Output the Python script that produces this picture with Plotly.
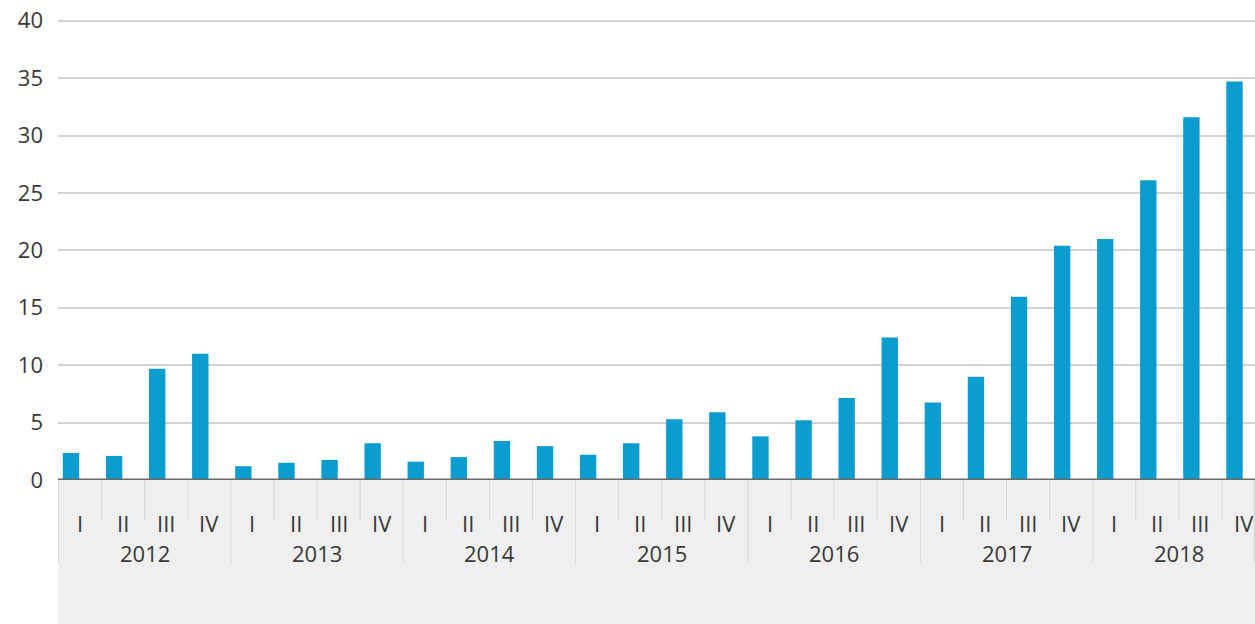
import plotly.graph_objects as go

years = ["2012", "2013", "2014", "2015", "2016", "2017", "2018"]
quarters = ["I", "II", "III", "IV"]
values = [
    2.35, 2.1, 9.7, 11.0,
    1.2, 1.5, 1.75, 3.2,
    1.6, 2.0, 3.4, 2.95,
    2.2, 3.2, 5.3, 5.9,
    3.8, 5.2, 7.15, 12.4,
    6.75, 9.0, 15.95, 20.4,
    21.0, 26.1, 31.6, 34.7,
]
y_ticks = [0, 5, 10, 15, 20, 25, 30, 35, 40]

W, H = 1255, 624
ML, MR, MT, MB = 58, 0, 19, 144
plot_h = H - MT - MB

n = len(values)
xs = list(range(n))
label_shift = 0.21

fig = go.Figure()
fig.add_trace(go.Bar(
    x=xs, y=values, width=0.38,
    marker=dict(color="#0b9dcf", line=dict(width=0)),
    hoverinfo="y",
))

def py(px):
    # pixels below plot bottom -> paper coordinate
    return -px / plot_h

shapes = []
shapes.append(dict(type="rect", xref="paper", yref="paper", x0=0, x1=1,
                   y0=py(MB), y1=0, fillcolor="#efefef", line=dict(width=0), layer="below"))
for j in range(n - 1):
    xb = j + 0.5 + label_shift
    long = (j + 1) % 4 == 0
    shapes.append(dict(type="line", xref="x", yref="paper", x0=xb, x1=xb,
                       y0=0, y1=py(83 if long else 40),
                       line=dict(color="#d6d6d6", width=1)))
for xp in (0.0005, 0.9995):
    shapes.append(dict(type="line", xref="paper", yref="paper", x0=xp, x1=xp,
                       y0=0, y1=py(83), line=dict(color="#d6d6d6", width=1)))
shapes.append(dict(type="line", xref="paper", yref="y", x0=0, x1=1, y0=0, y1=0,
                   line=dict(color="#6a6a6a", width=3)))

annotations = []
font = dict(family="Open Sans, sans-serif", size=22, color="#383838")
for i in range(n):
    annotations.append(dict(x=i + label_shift, y=py(43), xref="x", yref="paper",
                            text=quarters[i % 4], showarrow=False, font=font,
                            xanchor="center", yanchor="middle"))
for k, yr in enumerate(years):
    annotations.append(dict(x=4 * k + 1.5 + label_shift, y=py(73), xref="x", yref="paper",
                            text=yr, showarrow=False, font=font,
                            xanchor="center", yanchor="middle"))

fig.update_layout(
    width=W, height=H,
    margin=dict(l=ML, r=MR, t=MT, b=MB, pad=0),
    paper_bgcolor="white", plot_bgcolor="white",
    showlegend=False,
    shapes=shapes, annotations=annotations,
    xaxis=dict(range=[-0.302, 27.476], showticklabels=False, showgrid=False,
               zeroline=False, showline=False, fixedrange=True),
    yaxis=dict(range=[0, 40.15], tickvals=y_ticks, showgrid=True, gridcolor="#d3d3d3",
               gridwidth=2, zeroline=False, showline=False, ticks="",
               tickfont=dict(family="Open Sans, sans-serif", size=22, color="#383838"),
               ticklabelstandoff=14, fixedrange=True),
    font=font,
    bargap=0.6,
)

fig.write_html("out.html", config={"displayModeBar": False},
               post_script="document.body.style.margin='0';document.body.style.overflow='hidden';")
